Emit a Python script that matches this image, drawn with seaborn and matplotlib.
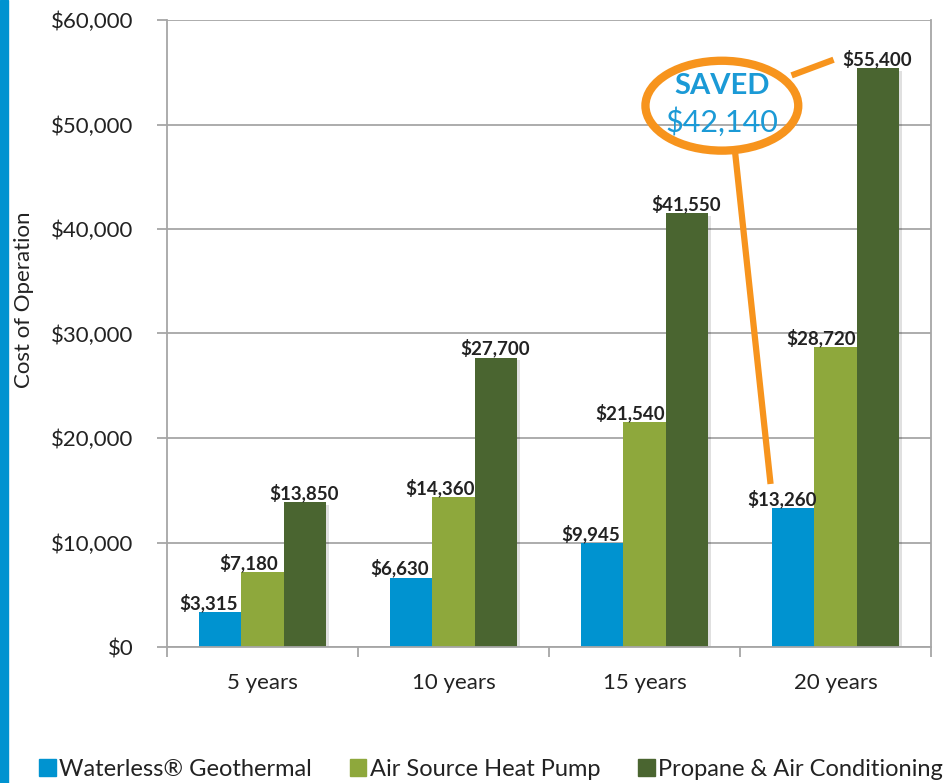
import matplotlib
matplotlib.use("Agg")
import matplotlib.pyplot as plt
import matplotlib.patheffects as pe
from matplotlib.patches import Ellipse, Rectangle
from matplotlib.ticker import FuncFormatter, FixedLocator
import seaborn as sns
import pandas as pd

# ---- data ----
periods = ["5 years", "10 years", "15 years", "20 years"]
series_names = ["Waterless\u00ae Geothermal", "Air Source Heat Pump", "Propane & Air Conditioning"]
geothermal = [3315, 6630, 9945, 13260]
air_source = [7180, 14360, 21540, 28720]
propane = [13850, 27700, 41550, 55400]
saved_value = 42140
y_ticks = [0, 10000, 20000, 30000, 40000, 50000, 60000]

colors = ["#0093D0", "#8EA83C", "#4A6530"]

rows = []
for name, vals in zip(series_names, [geothermal, air_source, propane]):
    for p, v in zip(periods, vals):
        rows.append({"Period": p, "Series": name, "Cost": v})
df = pd.DataFrame(rows)

sns.set_theme(style="white")
plt.rcParams["font.family"] = ["Lato", "DejaVu Sans"]

fig = plt.figure(figsize=(9.48, 7.83), dpi=100)
ax = fig.add_axes([167 / 948, 1 - 647 / 783, (931 - 167) / 948, (647 - 20) / 783])

sns.barplot(data=df, x="Period", y="Cost", hue="Series", order=periods,
            hue_order=series_names, palette=colors, width=0.67,
            saturation=1, ax=ax, legend=False, errorbar=None)

for patch in ax.patches:
    patch.set_path_effects([pe.SimplePatchShadow(offset=(2, -2), shadow_rgbFace="#000000", alpha=0.12),
                            pe.Normal()])
    patch.set_linewidth(0)

# bar value labels
offsets = [-8, -10, -1]
for ci, cont in enumerate(ax.containers):
    for bar in cont:
        h = bar.get_height()
        ax.annotate(f"${h:,.0f}", (bar.get_x() + bar.get_width() / 2, h),
                    xytext=(offsets[ci], 0), textcoords="offset points",
                    ha="center", va="bottom", fontsize=13.5, fontweight="bold",
                    color="#222222")

# axes styling
ax.set_ylim(0, 60000)
ax.set_xlim(-0.5, 3.5)
ax.yaxis.set_major_locator(FixedLocator(y_ticks))
ax.yaxis.set_major_formatter(FuncFormatter(lambda v, p: f"${v:,.0f}"))
ax.grid(axis="y", color="#A6A6A6", linewidth=1.3)
ax.set_axisbelow(True)
for s in ["left", "bottom", "right"]:
    ax.spines[s].set_visible(True)
    ax.spines[s].set_color("#A6A6A6")
    ax.spines[s].set_linewidth(1.3)
ax.spines["top"].set_visible(False)
ax.tick_params(axis="y", which="major", length=7, width=1.3, color="#A6A6A6",
               pad=17, labelsize=16, labelcolor="#222222", left=True)
ax.tick_params(axis="x", which="major", length=0, pad=19, labelsize=16,
               labelcolor="#222222")
ax.xaxis.set_minor_locator(FixedLocator([-0.5, 0.5, 1.5, 2.5, 3.5]))
ax.tick_params(axis="x", which="minor", length=7, width=1.3, color="#A6A6A6", bottom=True)
ax.set_xlabel("")
ax.set_ylabel("")
fig.text(24 / 948, 1 - 300 / 783, "Cost of Operation", rotation=90, ha="center",
         va="center", fontsize=16, color="#222222")

# left accent strip
fig.patches.append(Rectangle((0, 0), 8 / 948, 1, transform=fig.transFigure,
                             color="#0093D0", zorder=0))

# SAVED callout
orange = "#F7941D"
ell = Ellipse((2.405, 51800), width=0.80, height=8600, angle=0, fill=False,
              edgecolor=orange, linewidth=6, zorder=5, clip_on=False)
ax.add_patch(ell)
ax.plot([2.77, 2.99], [54700, 56200], color=orange, linewidth=4.5,
        solid_capstyle="butt", zorder=5, clip_on=False)
ax.plot([2.474, 2.66], [47400, 15600], color=orange, linewidth=4.5,
        solid_capstyle="butt", zorder=5, clip_on=False)
ax.text(2.405, 53700, "SAVED", ha="center", va="center", fontsize=21,
        fontweight="bold", color="#1B9AD6", zorder=6)
ax.text(2.405, 50200, f"${saved_value:,}", ha="center", va="center", fontsize=22,
        color="#1B9AD6", zorder=6)

# legend
handles = [Rectangle((0, 0), 1, 1, color=c) for c in colors]
fig.legend(handles, series_names, loc="center", bbox_to_anchor=(0.518, 1 - 769 / 783),
           ncol=3, frameon=False, fontsize=17, handlelength=0.7, handleheight=0.7,
           handletextpad=0.15, columnspacing=1.6, labelcolor="#222222")

fig.savefig("out.png", dpi=100)
